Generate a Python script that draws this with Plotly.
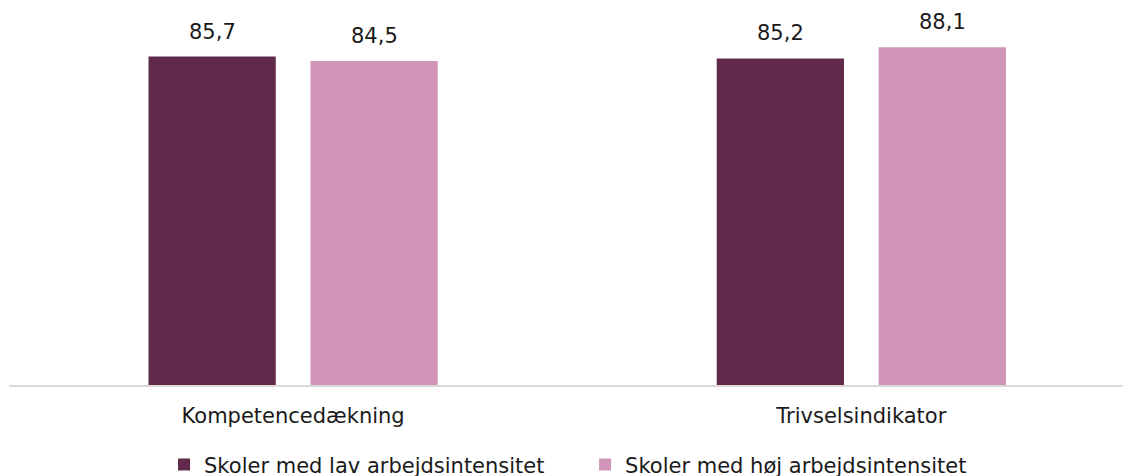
import plotly.graph_objects as go

categories = ["Kompetencedækning", "Trivselsindikator"]
series_names = ["Skoler med lav arbejdsintensitet", "Skoler med høj arbejdsintensitet"]
lav_values = [85.7, 85.2]
hoej_values = [84.5, 88.1]
colors = ["#622A4A", "#D295BA"]

FONT = "Verdana, DejaVu Sans, sans-serif"
FS = 21

fig = go.Figure()
legends = ["legend", "legend2"]
for name, vals, col, lg in zip(series_names, [lav_values, hoej_values], colors, legends):
    fig.add_trace(go.Bar(x=categories, y=vals, name=name, marker_color=col,
                         marker_line_width=0, legend=lg))

# value labels above bars, offset to sit in the middle of each bar slot
half_slot = 0.1425
for k, vals in enumerate([lav_values, hoej_values]):
    off = -half_slot if k == 0 else half_slot
    for i, v in enumerate(vals):
        fig.add_annotation(x=i + off, y=v, text=f"{v:.1f}".replace(".", ","),
                           showarrow=False, yanchor="bottom", yshift=11,
                           font=dict(family=FONT, size=FS, color="#1a1a1a"))

leg_style = dict(orientation="h", yanchor="middle", y=-0.212, xanchor="left",
                 font=dict(family=FONT, size=FS), borderwidth=0,
                 bgcolor="rgba(0,0,0,0)")

fig.update_layout(
    width=1131, height=476,
    margin=dict(l=1, r=0, t=0, b=99, autoexpand=False),
    paper_bgcolor="white", plot_bgcolor="white",
    barmode="group", bargap=0.43, bargroupgap=0.214,
    separators=",.",
    font=dict(family=FONT, size=FS, color="#1a1a1a"),
    showlegend=True,
    legend=dict(x=0.1372, **leg_style),
    legend2=dict(x=0.5098, **leg_style),
    xaxis=dict(type="category", range=[-0.5, 1.4887], showline=True,
               linecolor="#D9D9D9", linewidth=2, ticks="", showgrid=False,
               ticklabelstandoff=11, automargin=False,
               tickfont=dict(family=FONT, size=FS)),
    yaxis=dict(range=[0, 98.36], visible=False, showgrid=False, automargin=False),
)

fig.write_html("out.html")
